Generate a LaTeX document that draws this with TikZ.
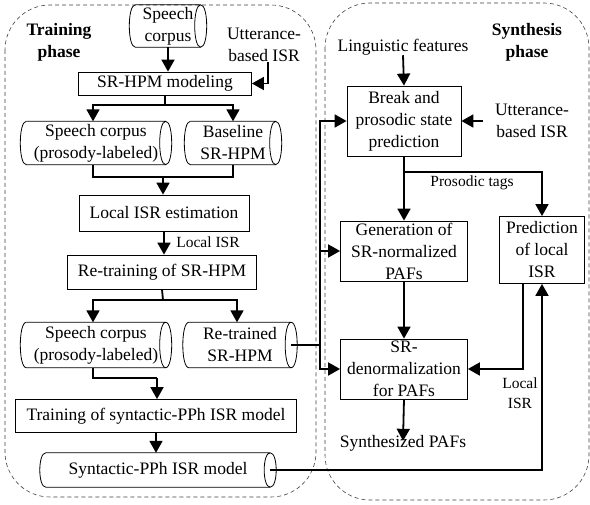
\documentclass[tikz,border=0pt]{standalone}
\usepackage{fontspec}
\setmainfont{Liberation Serif}
\usetikzlibrary{arrows.meta}
\newcommand\cylout[1]{%
  \draw[line width=0.8pt] ([xshift=6pt]#1.north west) -- ([xshift=-6pt]#1.north east)
    .. controls ([xshift=2pt]#1.north east) and ([xshift=2pt]#1.south east) .. ([xshift=-6pt]#1.south east)
    .. controls ([xshift=-14pt]#1.south east) and ([xshift=-14pt]#1.north east) .. ([xshift=-6pt]#1.north east);
  \draw[line width=0.8pt] ([xshift=-6pt]#1.south east) -- ([xshift=6pt]#1.south west)
    .. controls ([xshift=-2pt]#1.south west) and ([xshift=-2pt]#1.north west) .. ([xshift=6pt]#1.north west);
}
\begin{document}
\begin{tikzpicture}[x=1pt,y=-1pt,
 txt/.style={font=\fontsize{17.5}{22}\selectfont, align=center, inner sep=0pt},
 small/.style={font=\fontsize{15.5}{20}\selectfont, align=center, inner sep=0pt},
 bold/.style={font=\fontsize{17.5}{22}\selectfont\bfseries, align=center, inner sep=0pt},
 box/.style={txt, draw, line width=0.8pt},
 cyl/.style={txt},
 conn/.style={line width=1.8pt, -{Triangle[width=13pt,length=12pt]}},
 plain/.style={line width=1.8pt},
 phasebox/.style={draw=black!75, dash pattern=on 4pt off 3pt, rounded corners=45pt, line width=0.6pt}]
\useasboundingbox (0,0) rectangle (590,505);
% phase frames
\draw[phasebox] (5,5) rectangle (316,497);
\draw[phasebox] (325,3) rectangle (589,500);
\node[bold] (tp) at (59,42) {Training\\phase};
\node[bold] (sp) at (527,42) {Synthesis\\phase};
% training side
\node[cyl, minimum width=77, minimum height=42] (sc1) at (168,26) {Speech\\corpus};
\node[txt] (utt1) at (264,45) {Utterance-\\based ISR};
\node[box, minimum width=173, minimum height=23] (hpm) at (165,83.5) {SR-HPM modeling};
\node[cyl, minimum width=151, minimum height=43] (spc1) at (96,143) {Speech corpus\\(prosody-labeled)};
\node[cyl, minimum width=97, minimum height=43] (base) at (233,143) {Baseline\\SR-HPM};
\node[box, minimum width=170, minimum height=36] (lie) at (164,213) {Local ISR estimation};
\node[small] (lisr1) at (208,242) {Local ISR};
\node[box, minimum width=189, minimum height=34] (rt) at (162,272) {Re-training of SR-HPM};
\node[cyl, minimum width=151, minimum height=45] (spc2) at (96,345) {Speech corpus\\(prosody-labeled)};
\node[cyl, minimum width=114, minimum height=45] (retr) at (240,345) {Re-trained\\SR-HPM};
\node[box, minimum width=281, minimum height=33] (tr) at (156,416) {Training of syntactic-PPh ISR model};
\node[cyl, minimum width=236, minimum height=34] (syn) at (158,470) {Syntactic-PPh ISR model};
\cylout{sc1}
\cylout{spc1}
\cylout{base}
\cylout{spc2}
\cylout{retr}
\cylout{syn}
% synthesis side
\node[txt] (ling) at (403,47) {Linguistic features};
\node[box, minimum width=114, minimum height=70] (bps) at (404,121) {Break and\\prosodic state\\prediction};
\node[txt] (utt2) at (532,121) {Utterance-\\based ISR};
\node[small] (ptag) at (472,183) {Prosodic tags};
\node[box, minimum width=127, minimum height=60] (gen) at (404,251) {Generation of\\SR-normalized\\PAFs};
\node[box, minimum width=85, minimum height=67] (pred) at (542,250) {Prediction\\of local\\ISR};
\node[box, minimum width=127, minimum height=60] (den) at (404,369) {SR-\\denormalization\\for PAFs};
\node[small] (lisr2) at (520,393) {Local\\ISR};
\node[txt] (synth) at (403,443) {Synthesized PAFs};
% training connectors
\draw[conn] (sc1.south) -- (sc1.south |- hpm.north);
\draw[conn] ([xshift=4pt]utt1.south) |- (hpm.east);
\coordinate (b1) at (165,105);
\draw[plain] (hpm.south) -- (b1);
\draw[conn] (b1) -| ([xshift=-3pt]spc1.north);
\draw[conn] (b1) -| (base.north);
\coordinate (m1) at (163,177);
\draw[plain] ([xshift=-3pt]spc1.south) |- (m1) -| (base.south);
\draw[conn] (m1) -- (m1 |- lie.north);
\draw[conn] (lie.south) -- (lie.south |- rt.north);
\coordinate (b2) at (163,300);
\draw[plain] (rt.south) -- (b2);
\draw[conn] (b2) -| ([xshift=-3pt]spc2.north);
\draw[conn] (b2) -| ([xshift=-3pt]retr.north);
\coordinate (m2) at (157,378);
\draw[plain] ([xshift=-3pt]spc2.south) |- (m2);
\draw[conn] (m2) -- (m2 |- tr.north);
\draw[conn] (tr.south) -- (tr.south |- syn.north);
\draw[conn] ([xshift=-6pt]syn.east) -| (pred.south);
% synthesis connectors
\draw[conn] (ling.south) -- (bps.north);
\draw[conn] ([xshift=-12pt]utt2.west) -- (bps.east);
\coordinate (j) at (320,345);
\draw[plain] ([xshift=-6pt]retr.east) -- (j);
\draw[conn] (j) |- (bps.west);
\draw[conn] (j |- gen.west) -- (gen.west);
\draw[conn] (j) |- (den.west);
\coordinate (pt) at (404,172);
\draw[conn] (bps.south) -- (gen.north);
\draw[conn] (pt) -| (pred.north);
\draw[conn] (gen.south) -- (den.north);
\draw[conn] ([xshift=-19pt]pred.south) |- (den.east);
\draw[conn] (den.south) -- ([yshift=-6pt]synth.north);
\end{tikzpicture}
\end{document}
